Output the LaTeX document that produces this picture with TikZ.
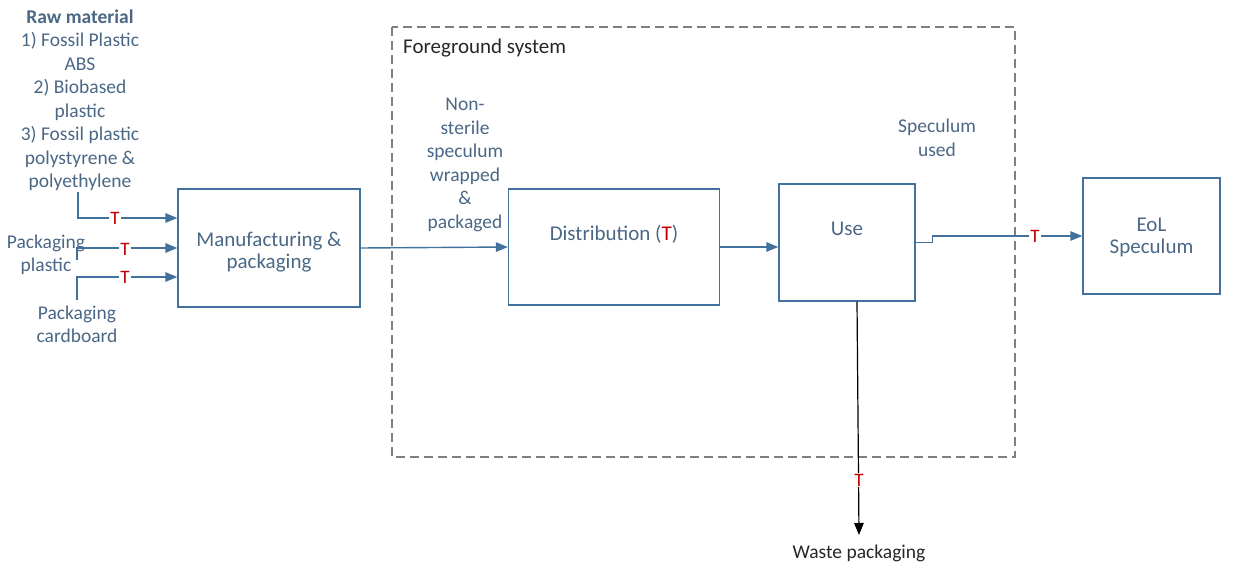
\documentclass[tikz,border=0pt]{standalone}
\usepackage{fontspec}
\setmainfont{Carlito}
\usetikzlibrary{arrows.meta}
\definecolor{boxblue}{HTML}{41719C}
\definecolor{txtblue}{HTML}{4A6785}
\definecolor{tred}{HTML}{C00000}
\definecolor{framegray}{HTML}{7F7F7F}
\definecolor{darktxt}{HTML}{262626}
\begin{document}
\begin{tikzpicture}[x=1pt,y=-1pt,
  procbox/.style={draw=boxblue, line width=1.3pt, inner sep=0pt},
  boxtext/.style={text=txtblue, align=center, inner sep=0pt, font=\fontsize{21}{22}\selectfont},
  sidetext/.style={text=txtblue, align=center, inner sep=0pt, font=\fontsize{19.5}{23.5}\selectfont},
  tmark/.style={text=tred, fill=white, inner sep=1pt, font=\fontsize{19}{20}\selectfont},
  flow/.style={draw=boxblue, line width=1.4pt, -{Triangle[length=12pt,width=9.5pt]}},
  wasteflow/.style={draw=black, line width=1.2pt, -{Triangle[length=12pt,width=9.5pt]}},
  sysframe/.style={draw=framegray, line width=1.6pt, dash pattern=on 9pt off 5pt}]
\useasboundingbox (0,0) rectangle (1257,564);

% system boundary of the foreground system
\draw[sysframe] (392,27) rectangle (1015,457);
\node[anchor=west, text=darktxt, inner sep=0pt, font=\fontsize{21}{22}\selectfont] (fgs) at (403,48) {Foreground system};

% process boxes
\node[procbox, minimum width=182pt, minimum height=118pt] (manu) at (269,248) {};
\node[boxtext] (manul) at (269,252) {Manufacturing \&\\packaging};
\node[procbox, minimum width=211pt, minimum height=116pt] (dist) at (614,247) {};
\node[boxtext] (distl) at (614,234) {Distribution (\textcolor{tred}{T})};
\node[procbox, minimum width=136pt, minimum height=117pt] (use) at (847,242.5) {};
\node[boxtext] (usel) at (847,229) {Use};
\node[procbox, minimum width=137pt, minimum height=116pt] (eol) at (1151.5,236) {};
\node[boxtext] (eoll) at (1151.5,237) {EoL\\Speculum};

% inputs
\node[sidetext] (raw) at (80,100) {\textbf{Raw material}\\1) Fossil Plastic\\ABS\\2) Biobased\\plastic\\3) Fossil plastic\\polystyrene \&\\polyethylene};
\node[sidetext] (pplast) at (46,255) {Packaging\\plastic};
\node[sidetext] (pcard) at (77,324.5) {Packaging\\cardboard};

% flow labels
\node[sidetext] (nonster) at (465,165) {Non-\\sterile\\speculum\\wrapped\\\&\\packaged};
\node[sidetext] (spused) at (937,138) {Speculum\\used};
\node[text=darktxt, inner sep=0pt, font=\fontsize{19.5}{22}\selectfont] (waste) at (859,553) {Waste packaging};

% connector start points
\coordinate (r0) at (78,192);
\coordinate (p0) at (77,260);
\coordinate (c0) at (77,300);
\coordinate (w1) at (859,535);

% flows into manufacturing
\draw[flow] (r0) |- (manu.west |- 0,218);
\draw[flow] (p0) |- (manu.west);
\draw[flow] (c0) |- (manu.west |- 0,277);
\node[tmark] (t1) at (115,218) {T};
\node[tmark] (t2) at (125,249) {T};
\node[tmark] (t3) at (125,277) {T};

% main chain
\draw[flow] (manu.east) -- (dist.west);
\draw[flow] (dist.east) -- (dist.east -| use.west);
\draw[flow] (use.east) -- ++(17,0) |- (eol.west);
\node[tmark] (t4) at (1035,236) {T};

% waste packaging
\draw[wasteflow] (use.south -| 857,0) -- (w1);
\node[tmark] (t5) at (859,480) {T};
\end{tikzpicture}
\end{document}
